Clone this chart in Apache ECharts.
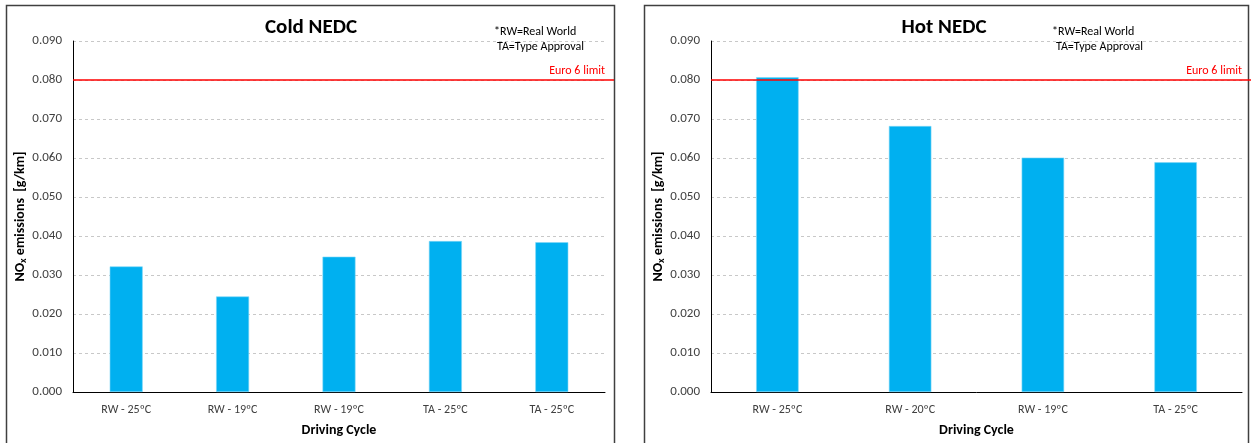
<!DOCTYPE html>
<html>
<head>
<meta charset="utf-8">
<script src="https://cdn.jsdelivr.net/npm/echarts@6/dist/echarts.min.js"></script>
<style>
  html, body { margin: 0; padding: 0; background: #fff; }
  #chart { width: 1251px; height: 443px; }
</style>
</head>
<body>
<div id="chart"></div>
<script>
// NOx emissions per driving cycle, cold and hot NEDC
const coldCycles = ['RW - 25ºC', 'RW - 19ºC', 'RW - 19ºC', 'TA - 25ºC', 'TA - 25ºC'];
const coldNox = [0.0322, 0.0245, 0.0347, 0.0387, 0.0384];
const hotCycles = ['RW - 25ºC', 'RW - 20ºC', 'RW - 19ºC', 'TA - 25ºC'];
const hotNox = [0.0807, 0.0682, 0.0601, 0.0589];
const euro6Limit = 0.080;
const yTicks = { min: 0, max: 0.09, interval: 0.01 };

const FONT = 'Carlito, "Liberation Sans", "Noto Sans", sans-serif';
const BAR = '#00B0F0';

function yAxis(gridIndex) {
  return {
    type: 'value', gridIndex,
    min: yTicks.min, max: yTicks.max, interval: yTicks.interval,
    axisLine: { show: true, lineStyle: { color: '#000', width: 1 } },
    axisTick: { show: false },
    axisLabel: { color: '#404040', fontFamily: FONT, fontSize: 13, margin: 11,
                 formatter: v => v.toFixed(3) },
    splitLine: { lineStyle: { color: '#c8c8c8', type: [3, 3], width: 1 } },
    name: '{b|NO}{s|x}{b| emissions  [g/km]}',
    nameLocation: 'middle', nameGap: 45, nameRotate: 90,
    nameTextStyle: {
      rich: {
        b: { fontFamily: FONT, fontSize: 14, fontWeight: 'bold', color: '#000' },
        s: { fontFamily: FONT, fontSize: 10, fontWeight: 'bold', color: '#000', verticalAlign: 'bottom', padding: [6, 0, 0, 0] }
      }
    }
  };
}

function xAxis(gridIndex, cats) {
  return {
    type: 'category', gridIndex, data: cats,
    axisLine: { show: true, lineStyle: { color: '#000', width: 1 } },
    axisTick: { show: false },
    axisLabel: { color: '#404040', fontFamily: FONT, fontSize: 12, margin: 12, interval: 0 },
    name: 'Driving Cycle', nameLocation: 'middle', nameGap: 31,
    nameTextStyle: { fontFamily: FONT, fontSize: 14, fontWeight: 'bold', color: '#000' }
  };
}

function bars(idx, data, width) {
  return {
    type: 'bar', xAxisIndex: idx, yAxisIndex: idx, data,
    barWidth: width,
    itemStyle: { color: BAR, borderColor: '#7fd7f7', borderWidth: 0.6 },
    markLine: {
      silent: true, symbol: 'none',
      lineStyle: { color: '#ff0000', width: 1.5, type: 'solid' },
      label: { show: true, position: 'insideEndTop', formatter: 'Euro 6 limit',
               color: '#ff0000', fontFamily: FONT, fontSize: 12, distance: [0, 3] },
      data: [{ yAxis: euro6Limit }]
    },
    z: 2
  };
}

function noteText(id, x, y, txt) {
  return { id, type: 'text', left: x, top: y,
           style: { text: txt, fill: '#000', font: '12px ' + FONT } };
}

const chart = echarts.init(document.getElementById('chart'), null, { renderer: 'canvas' });
chart.setOption({
  animation: false,
  backgroundColor: '#fff',
  title: [
    { text: 'Cold NEDC', left: 306, top: 12, textAlign: 'center',
      textStyle: { fontFamily: FONT, fontSize: 21, fontWeight: 'bold', color: '#000' } },
    { text: 'Hot NEDC', left: 939, top: 12, textAlign: 'center',
      textStyle: { fontFamily: FONT, fontSize: 21, fontWeight: 'bold', color: '#000' } }
  ],
  grid: [
    { left: 73, right: 1251 - 605, top: 41, bottom: 443 - 392 },
    { left: 711, right: 1251 - 1242, top: 41, bottom: 443 - 392 }
  ],
  xAxis: [xAxis(0, coldCycles), xAxis(1, hotCycles)],
  yAxis: [yAxis(0), yAxis(1)],
  series: [bars(0, coldNox, '31%'), bars(1, hotNox, '32%')],
  graphic: [
    { id: 'frameL', type: 'rect', shape: { x: 6.5, y: 5.5, width: 608, height: 460 },
      style: { fill: 'none', stroke: '#404040', lineWidth: 1.5 }, silent: true, z: -1 },
    { id: 'frameR', type: 'rect', shape: { x: 644.5, y: 5.5, width: 604, height: 460 },
      style: { fill: 'none', stroke: '#404040', lineWidth: 1.5 }, silent: true, z: -1 },
    noteText('noteL1', 494, 26, '*RW=Real World'),
    noteText('noteL2', 497, 41, 'TA=Type Approval'),
    noteText('noteR1', 1052, 26, '*RW=Real World'),
    noteText('noteR2', 1056, 41, 'TA=Type Approval')
  ]
});

// carry the limit line on to the panel edge, past the plot area
const yLimL = chart.convertToPixel({ yAxisIndex: 0 }, euro6Limit);
const yLimR = chart.convertToPixel({ yAxisIndex: 1 }, euro6Limit);
chart.setOption({
  graphic: [
    { id: 'limitExtL', type: 'line', shape: { x1: 605, y1: yLimL, x2: 614, y2: yLimL },
      style: { stroke: '#ff0000', lineWidth: 1.5 }, silent: true },
    { id: 'limitExtR', type: 'line', shape: { x1: 1242, y1: yLimR, x2: 1251, y2: yLimR },
      style: { stroke: '#ff0000', lineWidth: 1.5 }, silent: true }
  ]
});
</script>
</body>
</html>
